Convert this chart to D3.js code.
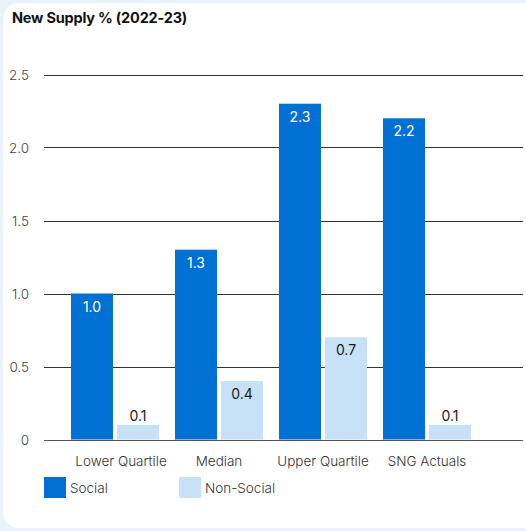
<!DOCTYPE html>
<html>
<head>
<meta charset="utf-8">
<script src="https://cdn.jsdelivr.net/npm/d3@7"></script>
<style>
  html, body { margin: 0; padding: 0; background: #eaf3fc; overflow: hidden; }
  svg { display: block; font-family: Inter, "Noto Sans", sans-serif; }
</style>
</head>
<body>
<svg id="chart" width="526" height="531"></svg>
<script>
const categories = ["Lower Quartile", "Median", "Upper Quartile", "SNG Actuals"];
const seriesNames = ["Social", "Non-Social"];
const socialValues = [1.0, 1.3, 2.3, 2.2];
const nonSocialValues = [0.1, 0.4, 0.7, 0.1];
const yTicks = [0, 0.5, 1.0, 1.5, 2.0, 2.5];
const yTickLabels = ["0", "0.5", "1.0", "1.5", "2.0", "2.5"];
const title = "New Supply % (2022-23)";

const colors = { "Social": "#0070d4", "Non-Social": "#c7e2f7" };

const svg = d3.select("#chart");

// card
svg.append("rect").attr("x", 3).attr("y", 3).attr("width", 560).attr("height", 525)
  .attr("rx", 16).attr("fill", "#ffffff");

svg.append("text").attr("x", 12).attr("y", 23)
  .attr("font-size", 14.5).attr("font-weight", 700).attr("fill", "#111")
  .attr("letter-spacing", -0.2)
  .text(title);

const plotLeft = 44, plotRight = 523;
const y = d3.scaleLinear().domain([0, 2.5]).range([439.5, 74.5]);
const x = d3.scaleBand().domain(categories).range([63, 479])
  .paddingInner(16 / 104).paddingOuter(8 / 104);
const xs = d3.scaleBand().domain(seriesNames).range([0, x.bandwidth()])
  .paddingInner(4 / 46);

// gridlines
const grid = svg.append("g");
grid.selectAll("line").data(yTicks).join("line")
  .attr("x1", plotLeft).attr("x2", plotRight)
  .attr("y1", d => Math.round(y(d)) + 0.5).attr("y2", d => Math.round(y(d)) + 0.5)
  .attr("stroke", d => d === 0 ? "#555" : "#333").attr("stroke-width", 1);

// y tick labels
svg.append("g").selectAll("text").data(yTicks).join("text")
  .attr("x", 29).attr("y", d => y(d) + 5)
  .attr("text-anchor", "end").attr("font-size", 13.5).attr("font-weight", 300).attr("fill", "#444")
  .text((d, i) => yTickLabels[i]);

const rows = categories.map((c, i) => ({
  cat: c,
  vals: [{ s: "Social", v: socialValues[i] }, { s: "Non-Social", v: nonSocialValues[i] }]
}));

const groups = svg.append("g").selectAll("g").data(rows).join("g")
  .attr("transform", d => `translate(${x(d.cat)},0)`);

groups.selectAll("rect").data(d => d.vals).join("rect")
  .attr("x", d => xs(d.s)).attr("width", xs.bandwidth())
  .attr("y", d => y(d.v)).attr("height", d => y(0) - y(d.v))
  .attr("fill", d => colors[d.s]);

groups.selectAll("text.val").data(d => d.vals).join("text")
  .attr("class", "val")
  .attr("x", d => xs(d.s) + xs.bandwidth() / 2)
  .attr("y", d => (y(0) - y(d.v) > 25) ? y(d.v) + 18 : y(d.v) - 4)
  .attr("text-anchor", "middle").attr("font-size", 14).attr("font-weight", 400)
  .attr("fill", d => d.s === "Social" ? "#ffffff" : "#1a1a1a")
  .text(d => d.v.toFixed(1));

// category labels
svg.append("g").selectAll("text").data(categories).join("text")
  .attr("x", d => x(d) + x.bandwidth() / 2 + (d === "Lower Quartile" ? 6 : 0)).attr("y", 466)
  .attr("text-anchor", "middle").attr("font-size", 13.5).attr("font-weight", 300).attr("fill", "#333")
  .text(d => d);

// legend
const legendX = [44, 179];
const leg = svg.append("g").selectAll("g").data(seriesNames).join("g")
  .attr("transform", (d, i) => `translate(${legendX[i]},477)`);
leg.append("rect").attr("width", 22).attr("height", 21).attr("fill", d => colors[d]);
leg.append("text").attr("x", 26).attr("y", 16).attr("font-size", 13.5).attr("font-weight", 300).attr("fill", "#333")
  .text(d => d);
</script>
</body>
</html>
